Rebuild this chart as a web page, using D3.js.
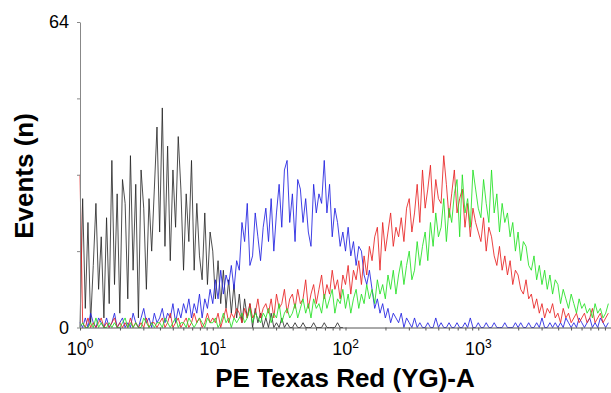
<!DOCTYPE html>
<html>
<head>
<meta charset="utf-8">
<script src="https://cdn.jsdelivr.net/npm/d3@7/dist/d3.min.js"></script>
<style>
  body { margin: 0; background: #fff; }
  svg { display: block; font-family: Arial, "Liberation Sans", sans-serif; }
</style>
</head>
<body>
<div id="chart"></div>
<script>
// histogram channels: one value every 0.02 decade, starting at 10^0
const decadesPerBin = 0.02;

const black = [
  0, 27, 4, 22, 1, 13, 26, 8, 19, 2,
  23, 5, 35, 9, 28, 3, 31, 26, 6, 36,
  12, 30, 2, 33, 25, 8, 27, 16, 29, 42,
  20, 46, 17, 38, 14, 33, 21, 40, 29, 12,
  28, 18, 35, 12, 26, 15, 10, 24, 9, 20,
  16, 6, 14, 5, 12, 4, 10, 3, 9, 2,
  7, 1, 6, 2, 5, 0, 4, 1, 3, 0,
  2, 0, 3, 0, 1, 0, 2, 0, 1, 0,
  0, 1, 0, 0, 1, 0, 0, 0, 1, 0,
  0, 0, 1, 0, 0, 0, 0, 1, 0, 0
];

const blue = [
  1, 0, 2, 0, 3, 1, 0, 2, 1, 0,
  2, 0, 1, 3, 0, 1, 2, 0, 1, 0,
  3, 1, 0, 2, 4, 1, 2, 0, 3, 1,
  2, 4, 1, 3, 2, 5, 1, 4, 2, 5,
  3, 6, 2, 5, 3, 7, 2, 6, 4, 8,
  5, 10, 6, 12, 7, 11, 9, 13, 8, 14,
  12, 22, 18, 26, 13, 15, 24, 19, 14, 21,
  25, 18, 27, 16, 24, 30, 21, 33, 35, 22,
  28, 18, 31, 29, 22, 27, 20, 17, 30, 24,
  28, 26, 35, 24, 30, 19, 25, 22, 17, 20,
  16, 21, 15, 18, 13, 17, 16, 11, 9, 12,
  8, 4, 6, 3, 5, 2, 4, 1, 3, 2,
  1, 3, 0, 2, 1, 0, 2, 0, 1, 0,
  0, 1, 0, 0, 2, 0, 1, 0, 0, 1,
  0, 0, 1, 0, 0, 1, 0, 2, 0, 0,
  1, 0, 0, 1, 0, 0, 1, 0, 0, 0,
  1, 0, 0, 0, 1, 0, 1, 0, 0, 1,
  0, 0, 1, 0, 2, 0, 0, 1, 0, 1,
  0, 1, 0, 2, 1, 0, 1, 0, 2, 1,
  0, 1, 2, 0, 1, 0, 2, 1, 0, 1
];

const red = [
  32, 1, 0, 2, 0, 1, 0, 1, 2, 0,
  1, 0, 1, 2, 0, 1, 0, 1, 0, 2,
  0, 1, 0, 1, 0, 2, 0, 1, 1, 0,
  1, 2, 0, 1, 3, 0, 1, 2, 0, 1,
  2, 0, 1, 3, 1, 2, 0, 1, 3, 1,
  2, 1, 3, 0, 2, 4, 1, 3, 2, 4,
  3, 1, 4, 2, 5, 2, 3, 6, 2, 4,
  5, 3, 6, 2, 7, 4, 5, 8, 3, 6,
  7, 4, 8, 5, 6, 10, 4, 7, 9, 5,
  8, 11, 6, 9, 7, 12, 8, 10, 6, 11,
  9, 13, 7, 12, 10, 14, 9, 15, 11, 17,
  14, 19, 21, 12, 22, 16, 20, 24, 17, 21,
  19, 23, 18, 25, 27, 20, 24, 30, 22, 33,
  25, 29, 34, 24, 31, 27, 26, 36, 30, 23,
  28, 33, 24, 27, 29, 21, 26, 19, 25, 22,
  20, 18, 23, 16, 21, 19, 15, 13, 17, 12,
  15, 11, 14, 9, 12, 11, 8, 7, 10, 6,
  7, 4, 6, 3, 5, 2, 4, 3, 5, 2,
  3, 1, 4, 2, 3, 1, 2, 3, 1, 2,
  3, 1, 2, 4, 1, 2, 3, 1, 2, 3
];

const green = [
  0, 1, 0, 0, 1, 0, 2, 0, 1, 0,
  0, 1, 0, 1, 0, 0, 1, 2, 0, 1,
  0, 1, 0, 0, 2, 1, 0, 1, 0, 1,
  1, 0, 2, 1, 0, 1, 2, 0, 1, 1,
  0, 2, 1, 0, 1, 2, 1, 0, 2, 1,
  1, 2, 0, 1, 3, 1, 2, 0, 2, 1,
  2, 3, 1, 2, 4, 1, 3, 2, 1, 3,
  2, 4, 1, 3, 2, 5, 1, 3, 4, 2,
  3, 5, 2, 4, 6, 3, 5, 2, 6, 4,
  5, 3, 7, 4, 6, 8, 3, 6, 5, 8,
  4, 7, 3, 6, 8, 4, 7, 5, 9, 6,
  8, 5, 10, 7, 9, 6, 11, 8, 12, 7,
  11, 14, 9, 13, 16, 10, 12, 18, 13, 17,
  20, 14, 22, 17, 24, 19, 21, 27, 18, 25,
  22, 28, 31, 19, 32, 24, 27, 21, 33, 29,
  25, 23, 31, 26, 22, 33, 24, 28, 20, 26,
  22, 24, 19, 22, 16, 20, 14, 18, 17, 13,
  12, 15, 10, 13, 9, 12, 8, 11, 7, 10,
  9, 5, 8, 6, 4, 7, 5, 3, 6, 4,
  5, 3, 4, 2, 5, 3, 4, 2, 3, 5
];

const yTicks = [0, 16, 32, 48, 64];
const yTickLabels = ["0", "", "", "", "64"];
const xDecades = [0, 1, 2, 3];
const xTitle = "PE Texas Red (YG)-A";
const yTitle = "Events (n)";

const width = 611, height = 393;

const svg = d3.select("#chart").append("svg")
  .attr("width", width)
  .attr("height", height);

const x = d3.scaleLog().domain([1, 10000]).range([80, 611]);
const y = d3.scaleLinear().domain([0, 64]).range([327.5, 22]);

// log minor ticks 1..9 per decade
let xTickVals = [];
xDecades.forEach(k => {
  for (let m = 1; m < 10; m++) xTickVals.push(m * Math.pow(10, k));
});

let line = d3.line()
  .x((d, i) => x(Math.pow(10, i * decadesPerBin)))
  .y(d => y(d));

let series = [
  { values: black, color: "#222222", opacity: 0.8 },
  { values: blue, color: "#2020e0", opacity: 0.85 },
  { values: red, color: "#e82222", opacity: 0.85 },
  { values: green, color: "#22e022", opacity: 0.85 }
];

svg.selectAll("path.series")
  .data(series)
  .enter()
  .append("path")
  .attr("class", "series")
  .attr("d", d => line(d.values))
  .attr("fill", "none")
  .attr("stroke", d => d.color)
  .attr("stroke-opacity", d => d.opacity)
  .attr("stroke-width", 1);

let xAxis = d3.axisBottom(x).tickValues(xTickVals).tickFormat("").tickSize(3).tickSizeOuter(0);
let gx = svg.append("g")
  .attr("transform", "translate(0," + y(0) + ")")
  .call(xAxis);
gx.select(".domain").attr("stroke", "#555");
gx.selectAll(".tick line").attr("stroke", "#555");

let yAxis = d3.axisLeft(y).tickValues(yTicks).tickSize(3).tickSizeOuter(0).tickPadding(8)
  .tickFormat((d, i) => yTickLabels[i]);
let gy = svg.append("g")
  .attr("transform", "translate(" + x(1) + ",0)")
  .call(yAxis);
gy.select(".domain").attr("stroke", "#888");
gy.selectAll(".tick line").attr("stroke", "#888");
gy.selectAll(".tick text")
  .attr("font-size", "18px")
  .attr("font-family", "Arial, 'Liberation Sans', sans-serif")
  .attr("fill", "#000");

// decade labels 10^k
let xl = svg.selectAll("text.xlab")
  .data(xDecades)
  .enter()
  .append("text")
  .attr("class", "xlab")
  .attr("x", d => x(Math.pow(10, d)))
  .attr("y", 355)
  .attr("text-anchor", "middle")
  .attr("font-size", "18px")
  .attr("fill", "#000");
xl.append("tspan").text("10");
xl.append("tspan").attr("dy", -7).attr("font-size", "12px").text(d => d);

svg.append("text")
  .attr("x", 345)
  .attr("y", 387)
  .attr("text-anchor", "middle")
  .attr("font-size", "26px")
  .attr("font-weight", "bold")
  .attr("fill", "#000")
  .text(xTitle);

svg.append("text")
  .attr("transform", "translate(33,176) rotate(-90)")
  .attr("text-anchor", "middle")
  .attr("font-size", "26px")
  .attr("font-weight", "bold")
  .attr("fill", "#000")
  .text(yTitle);
</script>
</body>
</html>
